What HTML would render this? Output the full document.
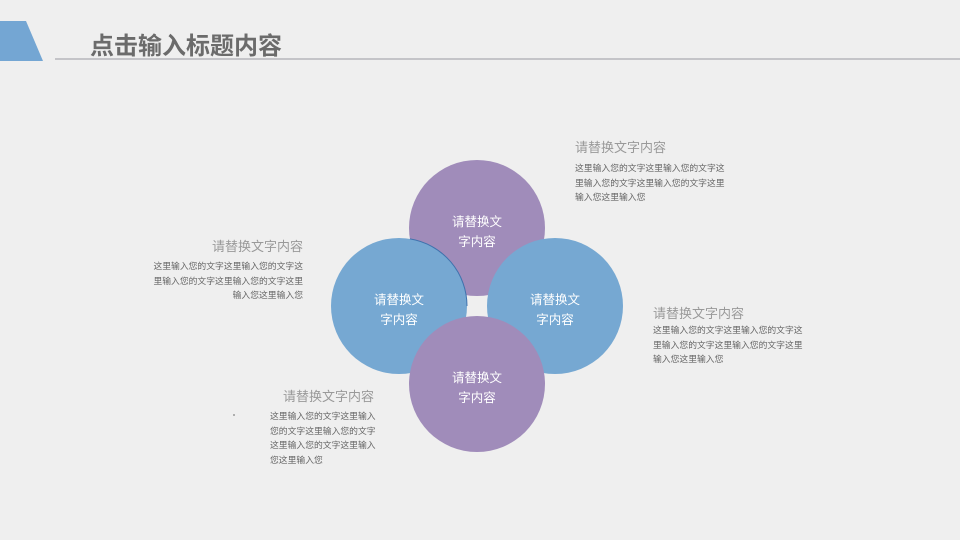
<!DOCTYPE html>
<html><head><meta charset="utf-8"><style>
body{margin:0;width:960px;height:540px;overflow:hidden;background:#efefef;position:relative;font-family:"Liberation Sans","Noto Sans CJK SC",sans-serif}
.t{position:absolute;white-space:nowrap}
.h{font-size:13px;color:#999}
.p{font-size:8.8px;color:#666;line-height:14.5px}
</style></head><body>
<svg width="960" height="540" style="position:absolute;left:0;top:0">
<polygon points="0,21 26,21 43,61 0,61" fill="#74a6d3"/>
<rect x="55" y="58" width="905" height="2" fill="#c4c4c8"/>
<circle cx="477" cy="228" r="68" fill="#a08cba"/>
<circle cx="555" cy="306" r="68" fill="#76a8d2"/>
<circle cx="399" cy="306" r="68" fill="#76a8d2"/>
<path d="M 410 238.9 A 68 68 0 0 1 467 306" fill="none" stroke="#3f72ad" stroke-width="1"/>
<circle cx="477" cy="384" r="68" fill="#a08cba"/>
<circle cx="234" cy="415" r="1" fill="#999"/>
<g font-family="Liberation Sans,Noto Sans CJK SC,sans-serif" font-size="12.5" fill="#fff" text-anchor="middle">
<text x="477" y="226">请替换文</text><text x="477" y="246">字内容</text>
<text x="399" y="304">请替换文</text><text x="399" y="324">字内容</text>
<text x="555" y="304">请替换文</text><text x="555" y="324">字内容</text>
<text x="477" y="382">请替换文</text><text x="477" y="402">字内容</text>
</g>
</svg>
<div class="t" style="left:90px;top:26px;font-size:24px;font-weight:bold;color:#6b6b6b">点击输入标题内容</div>
<div class="t h" style="left:575px;top:137px">请替换文字内容</div>
<div class="t p" style="left:575px;top:161px">这里输入您的文字这里输入您的文字这<br>里输入您的文字这里输入您的文字这里<br>输入您这里输入您</div>
<div class="t h" style="left:212px;top:236px">请替换文字内容</div>
<div class="t p" style="right:657px;top:259px;text-align:right">这里输入您的文字这里输入您的文字这<br>里输入您的文字这里输入您的文字这里<br>输入您这里输入您</div>
<div class="t h" style="left:653px;top:303px">请替换文字内容</div>
<div class="t p" style="left:653px;top:323px">这里输入您的文字这里输入您的文字这<br>里输入您的文字这里输入您的文字这里<br>输入您这里输入您</div>
<div class="t h" style="left:283px;top:386px">请替换文字内容</div>
<div class="t p" style="left:270px;top:409px">这里输入您的文字这里输入<br>您的文字这里输入您的文字<br>这里输入您的文字这里输入<br>您这里输入您</div>
</body></html>
